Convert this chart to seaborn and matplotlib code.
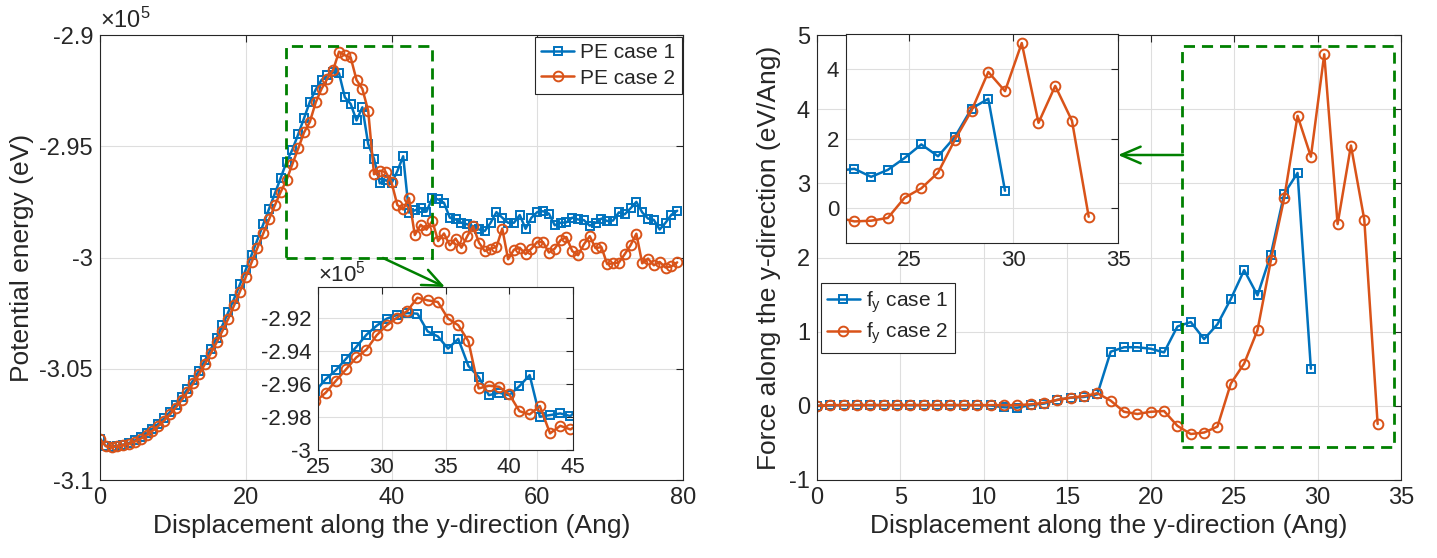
import numpy as np
import pandas as pd
import matplotlib
matplotlib.use("Agg")
import matplotlib.pyplot as plt
import seaborn as sns
from matplotlib.patches import Rectangle, FancyArrowPatch
from matplotlib.ticker import FuncFormatter

# ---------------- data ----------------
# displacement along y (Ang)
disp = [0.0, 0.8, 1.6, 2.4, 3.2, 4.0, 4.8, 5.6, 6.4, 7.2,
        8.0, 8.8, 9.6, 10.4, 11.2, 12.0, 12.8, 13.6, 14.4, 15.2,
        16.0, 16.8, 17.6, 18.4, 19.2, 20.0, 20.8, 21.6, 22.4, 23.2,
        24.0, 24.8, 25.6, 26.4, 27.2, 28.0, 28.8, 29.6, 30.4, 31.2,
        32.0, 32.8, 33.6, 34.4, 35.2, 36.0, 36.8, 37.6, 38.4, 39.2,
        40.0, 40.8, 41.6, 42.4, 43.2, 44.0, 44.8, 45.6, 46.4, 47.2,
        48.0, 48.8, 49.6, 50.4, 51.2, 52.0, 52.8, 53.6, 54.4, 55.2,
        56.0, 56.8, 57.6, 58.4, 59.2, 60.0, 60.8, 61.6, 62.4, 63.2,
        64.0, 64.8, 65.6, 66.4, 67.2, 68.0, 68.8, 69.6, 70.4, 71.2,
        72.0, 72.8, 73.6, 74.4, 75.2, 76.0, 76.8, 77.6, 78.4, 79.2]

# potential energy, in units of 1e5 eV
pe_case1 = [-3.0815, -3.0847, -3.0850, -3.0847, -3.0841, -3.0833, -3.0822, -3.0808, -3.0791, -3.0771,
            -3.0748, -3.0723, -3.0694, -3.0663, -3.0628, -3.0591, -3.0551, -3.0508, -3.0462, -3.0413,
            -3.0361, -3.0305, -3.0246, -3.0185, -3.0121, -3.0055, -2.9988, -2.9920, -2.9851, -2.9781,
            -2.9712, -2.9642, -2.9570, -2.9515, -2.9446, -2.9374, -2.9300, -2.9245, -2.9202, -2.9180,
            -2.9168, -2.9172, -2.9280, -2.9310, -2.9384, -2.9325, -2.9490, -2.9556, -2.9667, -2.9652,
            -2.9667, -2.9612, -2.9545, -2.9798, -2.9788, -2.9778, -2.9794, -2.9732, -2.9739, -2.9754,
            -2.9821, -2.9829, -2.9844, -2.9851, -2.9859, -2.9874, -2.9881, -2.9844, -2.9796, -2.9821,
            -2.9844, -2.9844, -2.9809, -2.9871, -2.9821, -2.9796, -2.9792, -2.9803, -2.9855, -2.9844,
            -2.9842, -2.9821, -2.9829, -2.9832, -2.9857, -2.9844, -2.9825, -2.9836, -2.9834, -2.9797,
            -2.9806, -2.9779, -2.9750, -2.9797, -2.9825, -2.9831, -2.9874, -2.9844, -2.9808, -2.9790]

pe_case2 = [-3.0815, -3.0848, -3.0852, -3.0849, -3.0844, -3.0837, -3.0827, -3.0814, -3.0798, -3.0779,
            -3.0757, -3.0733, -3.0705, -3.0675, -3.0641, -3.0605, -3.0566, -3.0524, -3.0479, -3.0431,
            -3.0382, -3.0330, -3.0275, -3.0215, -3.0153, -3.0088, -3.0022, -2.9957, -2.9892, -2.9828,
            -2.9765, -2.9705, -2.9652, -2.9580, -2.9510, -2.9438, -2.9390, -2.9303, -2.9242, -2.9196,
            -2.9156, -2.9075, -2.9091, -2.9101, -2.9202, -2.9242, -2.9340, -2.9626, -2.9610, -2.9616,
            -2.9662, -2.9764, -2.9784, -2.9733, -2.9899, -2.9853, -2.9875, -2.9836, -2.9926, -2.9892,
            -2.9945, -2.9915, -2.9956, -2.9904, -2.9859, -2.9933, -2.9971, -2.9960, -2.9953, -2.9870,
            -3.0008, -2.9965, -2.9956, -2.9985, -2.9960, -2.9930, -2.9931, -2.9978, -2.9960, -2.9922,
            -2.9908, -2.9971, -2.9990, -2.9941, -2.9904, -2.9958, -2.9953, -3.0030, -3.0026, -3.0023,
            -2.9985, -2.9945, -2.9893, -3.0026, -3.0005, -3.0035, -3.0020, -3.0045, -3.0040, -3.0022]

# force along y (eV/Ang)
fy_case1 = [0.00, 0.005, 0.01, 0.01, 0.01, 0.01, 0.01, 0.01, 0.01, 0.01,
            0.01, 0.01, 0.01, 0.005, -0.02, -0.025, 0.01, 0.03, 0.08, 0.11,
            0.12, 0.155, 0.73, 0.79, 0.79, 0.77, 0.72, 1.07, 1.13, 0.90,
            1.10, 1.44, 1.83, 1.49, 2.04, 2.86, 3.14, 0.50]
fy_case2 = [0.00, 0.01, 0.01, 0.01, 0.01, 0.01, 0.01, 0.01, 0.01, 0.01,
            0.01, 0.01, 0.01, 0.01, 0.01, 0.01, 0.02, 0.04, 0.08, 0.11,
            0.13, 0.17, 0.07, -0.08, -0.11, -0.08, -0.07, -0.27, -0.38, -0.36,
            -0.28, 0.30, 0.57, 1.02, 1.96, 2.80, 3.91, 3.36, 4.74, 2.45,
            3.51, 2.51, -0.245]

# ---------------- style ----------------
sns.set_theme(style="white")
plt.rcParams["font.family"] = ["Liberation Sans", "DejaVu Sans"]
plt.rcParams["axes.unicode_minus"] = False
plt.rcParams["mathtext.fontset"] = "custom"
plt.rcParams["mathtext.rm"] = "Liberation Sans"
plt.rcParams["mathtext.it"] = "Liberation Sans:italic"

BLUE = "#0072BD"
ORANGE = "#D95319"
GREEN = "#008000"
DARK = "#262626"
GRID = "#dedede"
TICK_FS = 17
LABEL_FS = 19
LEG_FS = 15
INSET_FS = 16

W, H = 1437, 558
fig = plt.figure(figsize=(W / 100, H / 100), dpi=100)


def px_rect(x0, y0, x1, y1):
    return [x0 / W, 1 - y1 / H, (x1 - x0) / W, (y1 - y0) / H]


def style_axes(ax, fs):
    for s in ax.spines.values():
        s.set_color(DARK)
        s.set_linewidth(0.8)
        s.set_visible(True)
    ax.tick_params(direction="in", length=5, width=0.8, top=True, right=True,
                   colors=DARK, labelsize=fs, pad=5)
    ax.grid(True, color=GRID, linewidth=0.8)
    ax.set_axisbelow(True)


def draw(ax, x, y, color, marker, ms, label=None):
    sns.lineplot(x=x, y=y, ax=ax, color=color, marker=marker, markersize=ms,
                 markerfacecolor="none", markeredgecolor=color, markeredgewidth=1.4,
                 linewidth=1.8, estimator=None, sort=False, label=label, legend=False)


def g_fmt():
    return FuncFormatter(lambda v, p: f"{v:g}")


def pe_fmt():
    return FuncFormatter(lambda v, p: f"{v / 1e5:g}")


def legend(ax, **kw):
    leg = ax.legend(borderaxespad=0, fontsize=LEG_FS, frameon=True, fancybox=False,
                    framealpha=1, edgecolor=DARK, handlelength=1.6, handletextpad=0.3,
                    borderpad=0.3, labelspacing=0.3, **kw)
    leg.get_frame().set_linewidth(0.8)
    return leg


pe1 = np.array(pe_case1) * 1e5
pe2 = np.array(pe_case2) * 1e5

# ---------------- left main ----------------
axL = fig.add_axes(px_rect(100, 35, 683, 480))
draw(axL, disp, pe1, BLUE, "s", 5.5, "PE case 1")
draw(axL, disp, pe2, ORANGE, "o", 7, "PE case 2")
axL.set_xlim(0, 80)
axL.set_ylim(-3.1e5, -2.9e5)
axL.set_xticks([0, 20, 40, 60, 80])
axL.set_yticks([-3.1e5, -3.05e5, -3.0e5, -2.95e5, -2.9e5])
axL.yaxis.set_major_formatter(pe_fmt())
axL.xaxis.set_major_formatter(g_fmt())
style_axes(axL, TICK_FS)
axL.set_xlabel("Displacement along the y-direction (Ang)", fontsize=LABEL_FS, color=DARK)
axL.set_ylabel("Potential energy (eV)", fontsize=LABEL_FS, color=DARK, labelpad=4)
axL.text(0.0, 1.005, "×10$^{\\mathregular{5}}$", transform=axL.transAxes, ha="left",
         va="bottom", fontsize=TICK_FS, color=DARK)
legend(axL, loc="upper right", bbox_to_anchor=(0.998, 0.995))
axL.add_patch(Rectangle((25.5, -3.0e5), 20.0, 0.095e5, fill=False, edgecolor=GREEN,
                        linewidth=2, linestyle=(0, (4, 2.5)), zorder=5))

# ---------------- left inset ----------------
axLi = fig.add_axes(px_rect(318, 287, 573, 450))
draw(axLi, disp, pe1, BLUE, "s", 5.5)
draw(axLi, disp, pe2, ORANGE, "o", 7)
axLi.set_xlim(25, 45)
axLi.set_ylim(-3.0e5, -2.901e5)
axLi.set_xticks([25, 30, 35, 40, 45])
axLi.set_yticks([-3.0e5, -2.98e5, -2.96e5, -2.94e5, -2.92e5])
axLi.yaxis.set_major_formatter(pe_fmt())
axLi.xaxis.set_major_formatter(g_fmt())
axLi.set_xlabel("")
axLi.set_ylabel("")
style_axes(axLi, INSET_FS)
axLi.set_facecolor("white")
axLi.text(0.0, 1.005, "×10$^{\\mathregular{5}}$", transform=axLi.transAxes, ha="left",
          va="bottom", fontsize=INSET_FS, color=DARK)

# ---------------- right main ----------------
axR = fig.add_axes(px_rect(817, 35, 1401, 480))
draw(axR, disp[:len(fy_case1)], fy_case1, BLUE, "s", 5.5, "f$_{\\mathregular{y}}$ case 1")
draw(axR, disp[:len(fy_case2)], fy_case2, ORANGE, "o", 7, "f$_{\\mathregular{y}}$ case 2")
axR.set_xlim(0, 35)
axR.set_ylim(-1, 5)
axR.set_xticks([0, 5, 10, 15, 20, 25, 30, 35])
axR.set_yticks([-1, 0, 1, 2, 3, 4, 5])
axR.xaxis.set_major_formatter(g_fmt())
axR.yaxis.set_major_formatter(g_fmt())
style_axes(axR, TICK_FS)
axR.set_xlabel("Displacement along the y-direction (Ang)", fontsize=LABEL_FS, color=DARK)
axR.set_ylabel("Force along the y-direction (eV/Ang)", fontsize=LABEL_FS, color=DARK, labelpad=6)
legend(axR, loc="upper left", bbox_to_anchor=(0.006, 0.443))
axR.add_patch(Rectangle((21.9, -0.555), 12.7, 5.405, fill=False, edgecolor=GREEN,
                        linewidth=2, linestyle=(0, (4, 2.5)), zorder=5))

# ---------------- right inset ----------------
axRi = fig.add_axes(px_rect(846, 34, 1118, 243))
draw(axRi, disp[:len(fy_case1)], fy_case1, BLUE, "s", 5.5)
draw(axRi, disp[:len(fy_case2)], fy_case2, ORANGE, "o", 7)
axRi.set_xlim(22, 35)
axRi.set_ylim(-1, 5)
axRi.set_xticks([25, 30, 35])
axRi.set_yticks([0, 2, 4])
axRi.xaxis.set_major_formatter(g_fmt())
axRi.yaxis.set_major_formatter(g_fmt())
axRi.set_xlabel("")
axRi.set_ylabel("")
style_axes(axRi, INSET_FS)
axRi.set_facecolor("white")

# ---------------- arrows ----------------
arrow_kw = dict(arrowstyle="->,head_length=0.7,head_width=0.3", color=GREEN, lw=1.8,
                shrinkA=0, shrinkB=0)
fig.add_artist(FancyArrowPatch(
    (383 / W, 1 - 258 / H), (445 / W, 1 - 287 / H), transform=fig.transFigure,
    mutation_scale=20, **arrow_kw))
fig.add_artist(FancyArrowPatch(
    (1183 / W, 1 - 155 / H), (1118 / W, 1 - 155 / H), transform=fig.transFigure,
    mutation_scale=20, **arrow_kw))

fig.savefig("out.png", dpi=100)
